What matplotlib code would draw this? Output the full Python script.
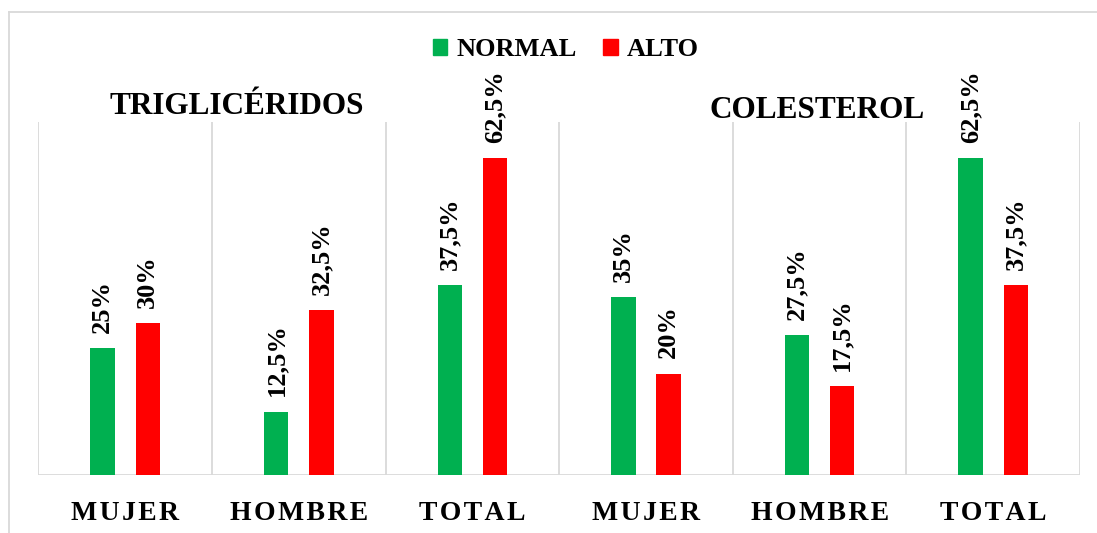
import matplotlib.pyplot as plt
import numpy as np
from matplotlib.lines import Line2D
from matplotlib.patches import Patch

plt.rcParams['font.family'] = ['Liberation Serif', 'DejaVu Serif']
plt.rcParams['font.weight'] = 'bold'

categories = ['MUJER', 'HOMBRE', 'TOTAL', 'MUJER', 'HOMBRE', 'TOTAL']
normal = [25, 12.5, 37.5, 35, 27.5, 62.5]
alto = [30, 32.5, 62.5, 20, 17.5, 37.5]
normal_labels = ['25%', '12,5%', '37,5%', '35%', '27,5%', '62,5%']
alto_labels = ['30%', '32,5%', '62,5%', '20%', '17,5%', '37,5%']
section_titles = ['TRIGLICÉRIDOS', 'COLESTEROL']

green = '#00B050'
red = '#FF0000'
grid_c = '#D9D9D9'

fig = plt.figure(figsize=(10.97, 5.33), dpi=100)
ax = fig.add_axes([0.035, 0.109, 0.9495, 0.662])

x = np.arange(len(categories))
w = 0.14
off = 0.13
b1 = ax.bar(x - off, normal, w, color=green, zorder=3)
b2 = ax.bar(x + off, alto, w, color=red, zorder=3)

for bars, labs in ((b1, normal_labels), (b2, alto_labels)):
    for r, lab in zip(bars, labs):
        ax.annotate(lab, (r.get_x() + r.get_width() / 2, r.get_height()),
                    xytext=(0, 11), textcoords='offset points',
                    rotation=90, ha='center', va='bottom',
                    fontsize=19, fontweight='bold')

ax.set_xlim(-0.5, len(categories) - 0.5)
ax.set_ylim(0, 69.6)
for s in np.arange(-0.5, len(categories), 1.0):
    ax.axvline(s, color=grid_c, lw=1.3, zorder=1)
ax.axhline(0, color=grid_c, lw=2, zorder=2)

for s in ax.spines.values():
    s.set_visible(False)
ax.set_yticks([])
ax.set_xticks(x)
ax.set_xticklabels(['\u200a'.join(c) for c in categories], fontsize=20,
                   fontweight='bold')
ax.tick_params(axis='x', length=0, pad=19)

# section titles
fig.text(237 / 1097, 1 - 107 / 533, section_titles[0], ha='center',
         va='center', fontsize=22.5, fontweight='bold')
fig.text(817 / 1097, 1 - 110 / 533, section_titles[1], ha='center',
         va='center', fontsize=22.5, fontweight='bold')

handles = [Patch(color=green, label='NORMAL'), Patch(color=red, label='ALTO')]
fig.legend(handles=handles, loc='center', bbox_to_anchor=(566 / 1097, 1 - 50 / 533),
           ncol=2, frameon=False, prop={'size': 19, 'weight': 'bold'},
           handlelength=0.55, handleheight=0.55, handletextpad=0.35,
           columnspacing=1.0)

# outer chart frame
fx = 9 / 1097
fy = 1 - 12 / 533
fig.add_artist(Line2D([fx, 1.0], [fy, fy], color=grid_c, lw=1.3,
                      transform=fig.transFigure))
fig.add_artist(Line2D([fx, fx], [0, fy], color=grid_c, lw=1.3,
                      transform=fig.transFigure))

fig.savefig('out.png', dpi=100)
